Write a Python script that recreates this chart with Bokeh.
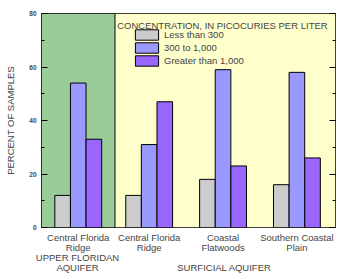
from bokeh.plotting import figure
from bokeh.models import (ColumnDataSource, Range1d, LinearAxis, FixedTicker,
                          SingleIntervalTicker, Legend, LegendItem, Label, Span, BoxAnnotation)
from bokeh.embed import file_html
from bokeh.resources import INLINE

# ---- data ----
groups = ["Central Florida\nRidge", "Central Florida\nRidge", "Coastal\nFlatwoods", "Southern Coastal\nPlain"]
less_300 = [12, 12, 18, 16]
from_300_to_1000 = [54, 31, 59, 58]
greater_1000 = [33, 47, 23, 26]
series_names = ["Less than 300", "300 to 1,000", "Greater than 1,000"]
upper_aquifer = "UPPER FLORIDAN\nAQUIFER"
surficial_aquifer = "SURFICIAL AQUIFER"

# ---- layout ----
centers = [1.0, 2.93, 4.94, 6.95]
upper_center = 0.98
surficial_center = 4.98
bw = 0.425
colors = ["#CCCCCC", "#9999FF", "#9966FF"]
FONT = "Liberation Sans"

p = figure(frame_width=294, frame_height=214, output_backend="svg", toolbar_location=None,
           x_range=Range1d(0, 8), y_range=Range1d(0, 80),
           min_border_left=41, min_border_right=8, min_border_top=13, min_border_bottom=52,
           x_axis_location=None, y_axis_location=None)
p.grid.visible = False
p.outline_line_color = "black"
p.outline_line_width = 1
p.background_fill_color = "white"
p.border_fill_color = "white"

p.add_layout(BoxAnnotation(left=0, right=2, fill_color="#99CC99", fill_alpha=1, line_alpha=0, level="underlay"))
p.add_layout(BoxAnnotation(left=2, right=8, fill_color="#FFFFCC", fill_alpha=1, line_alpha=0, level="underlay"))
p.add_layout(Span(location=2, dimension="height", line_color="black", line_width=1))

renderers = []
for i, vals in enumerate([less_300, from_300_to_1000, greater_1000]):
    src = ColumnDataSource(dict(x=[c + (i - 1) * bw for c in centers], top=vals))
    r = p.vbar(x="x", top="top", width=bw, bottom=0, source=src,
               fill_color=colors[i], line_color="black", line_width=1)
    renderers.append(r)

# y axes
for side in ["left", "right"]:
    ax = LinearAxis(ticker=SingleIntervalTicker(interval=20, num_minor_ticks=2))
    ax.axis_line_color = None
    ax.major_tick_in = 6
    ax.major_tick_out = 0
    ax.minor_tick_in = 3
    ax.minor_tick_out = 0
    ax.major_tick_line_color = "black"
    ax.minor_tick_line_color = "black"
    if side == "left":
        ax.major_label_text_font = FONT
        ax.major_label_text_font_size = "6.5px"
        ax.major_label_text_font_style = "bold"
        ax.major_label_standoff = 5
        ax.axis_label = "PERCENT OF SAMPLES"
        ax.axis_label_text_font = FONT
        ax.axis_label_text_font_size = "9.5px"
        ax.axis_label_text_font_style = "normal"
        ax.axis_label_standoff = 10
    else:
        ax.major_label_text_font_size = "0px"
        ax.major_label_text_color = None
    p.add_layout(ax, side)

# x axis: region names, with the aquifer captions as further lines
xa_ticks = centers + [upper_center, surficial_center]
xa_labels = groups + ["\n\n" + upper_aquifer, "\n\n\n" + surficial_aquifer]
xa = LinearAxis(ticker=FixedTicker(ticks=xa_ticks))
xa.major_label_overrides = {c: g for c, g in zip(xa_ticks, xa_labels)}
xa.axis_line_color = None
xa.major_tick_line_color = None
xa.minor_tick_line_color = None
xa.major_tick_in = 0
xa.major_tick_out = 0
xa.minor_tick_in = 0
xa.minor_tick_out = 0
xa.major_label_text_font = FONT
xa.major_label_text_font_size = "9.5px"
xa.major_label_standoff = 4
xa.major_label_text_line_height = 0.92
p.add_layout(xa, "below")

# legend
p.add_layout(Label(x=2.06, y=75.5, text="CONCENTRATION, IN PICOCURIES PER LITER",
                   text_align="left", text_baseline="middle",
                   text_font=FONT, text_font_size="9.5px"))
legend = Legend(items=[LegendItem(label=n, renderers=[r]) for n, r in zip(series_names, renderers)],
                location=(91, 160), orientation="vertical",
                glyph_width=29, glyph_height=13, label_height=11, spacing=0,
                padding=0, margin=0, label_standoff=3,
                label_text_font=FONT, label_text_font_size="9.5px",
                background_fill_alpha=0, border_line_color=None)
p.add_layout(legend, "center")

open("out.html", "w").write(file_html(p, INLINE))
